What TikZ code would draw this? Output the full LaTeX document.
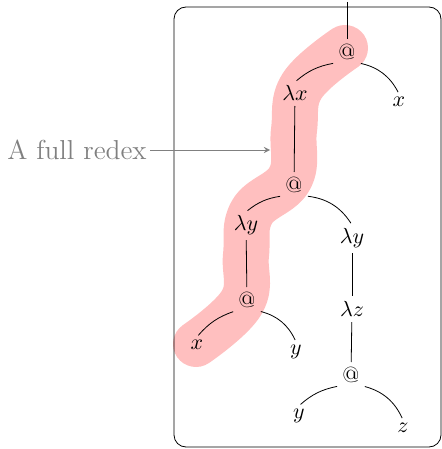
\documentclass[tikz,border=0pt]{standalone}
\begin{document}
\begin{tikzpicture}[
    x=0.5pt, y=-0.5pt,
    every node/.style={inner sep=1.5pt, font=\fontsize{11}{13}\selectfont},
    edge/.style={shorten <=1pt, shorten >=1pt},
    >=stealth
  ]
  \useasboundingbox (0,0) rectangle (442,449);
  % highlighted redex
  \draw[red!25, line width=23pt, line cap=round, line join=round]
    plot[smooth, tension=0.7] coordinates {(345,48) (302,86) (294,130) (290,178) (252,212) (246,255) (242,302) (196,344)};
  % tree nodes
  \coordinate (top) at (347,0);
  \node (A1) at (347,52) {$@$};
  \node (X1) at (399,102) {$x$};
  \node (Lx) at (295,93) {$\lambda x$};
  \node (A2) at (294,185) {$@$};
  \node (Ly1) at (246,225) {$\lambda y$};
  \node (Ly2) at (352,238) {$\lambda y$};
  \node (A3) at (247,300) {$@$};
  \node (X2) at (197,345) {$x$};
  \node (Y1) at (296,352) {$y$};
  \node (Lz) at (352,309) {$\lambda z$};
  \node (A4) at (351,375) {$@$};
  \node (Y2) at (299,416) {$y$};
  \node (Z) at (403,428) {$z$};
  % frame
  \draw[rounded corners=6] (174,7) rectangle (441,447);
  % edges
  \draw[edge] (top) -- (A1);
  \draw[edge] (A1.south west) to[bend right=15] (Lx.north);
  \draw[edge] (A1.south east) to[bend left=25] (X1.north);
  \draw[edge] (Lx) -- (A2);
  \draw[edge] (A2.south west) to[bend right=15] (Ly1.north);
  \draw[edge] (A2.south east) to[bend left=25] (Ly2.north);
  \draw[edge] (Ly1) -- (A3);
  \draw[edge] (A3.south west) to[bend right=15] (X2.north);
  \draw[edge] (A3.south east) to[bend left=25] (Y1.north);
  \draw[edge] (Ly2) -- (Lz);
  \draw[edge] (Lz) -- (A4);
  \draw[edge] (A4.south west) to[bend right=15] (Y2.north);
  \draw[edge] (A4.south east) to[bend left=25] (Z.north);
  % label
  \node[gray, font=\fontsize{13.7}{16}\selectfont] (lbl) at (77,150) {A full redex};
  \coordinate (tip) at (270,150);
  \draw[->, gray] (lbl) -- (tip);
\end{tikzpicture}
\end{document}
